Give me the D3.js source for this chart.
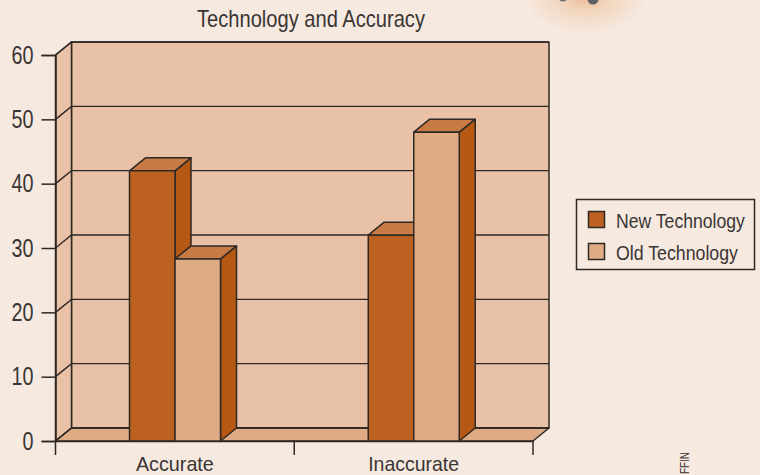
<!DOCTYPE html>
<html lang="en">
<head>
    <meta charset="UTF-8">
    <title>Technology and Accuracy</title>
    <style>
        html, body { margin: 0; padding: 0; background: #f6e9df; overflow: hidden; }
        svg { display: block; }
        text { font-family: "Liberation Sans", sans-serif; fill: #3a3535; }
    </style>
    <script src="https://cdn.jsdelivr.net/npm/d3@7"></script>
</head>
<body>
<svg width="760" height="475"></svg>
<script>
    const categories = ["Accurate", "Inaccurate"];
    const seriesNames = ["New Technology", "Old Technology"];
    const newTech = [42, 32];
    const oldTech = [28.3, 48];
    const yTicks = [0, 10, 20, 30, 40, 50, 60];

    const ink = "#2f2926";
    const depthX = 16, depthY = -13;
    const colors = {
        "New Technology": "#bc611f",
        "Old Technology": "#dfab85"
    };

    let svg = d3.select("svg");

    const y = d3.scaleLinear().domain([0, 60]).range([441, 55]);
    const x = d3.scaleBand().domain(categories).range([55.5, 533]);
    // bars fill the middle of each category, no gap between them
    const xBar = d3.scaleBand().domain(seriesNames).range([74, 165]);

    // no narrow font here, so squeeze the text to the measured width
    function squeeze(sel, width) {
        sel.each(function () {
            let t = d3.select(this);
            const tx = +t.attr("x") || 0, ty = +t.attr("y") || 0;
            const s = width / this.getComputedTextLength();
            t.attr("x", 0).attr("y", 0).attr("transform", `translate(${tx},${ty}) scale(${s},1)`);
        });
    }

    // smudge from the photo cropped at the top of the page
    let defs = svg.append("defs");
    let glow = defs.append("radialGradient").attr("id", "glow");
    glow.append("stop").attr("offset", "0%").attr("stop-color", "#e9b994");
    glow.append("stop").attr("offset", "45%").attr("stop-color", "#f2d6bf");
    glow.append("stop").attr("offset", "100%").attr("stop-color", "#f6e9df");
    svg.append("ellipse").attr("cx", 585).attr("cy", -6)
        .attr("rx", 62).attr("ry", 40).attr("fill", "url(#glow)");
    svg.append("circle").attr("cx", 593).attr("cy", -1).attr("r", 5.5).attr("fill", "#5e6164");
    svg.append("circle").attr("cx", 563).attr("cy", -3).attr("r", 4.5).attr("fill", "#6e7072");

    function poly(g, pts, fill) {
        return g.append("path")
            .attr("d", "M" + pts.map(p => p.join(",")).join("L") + "Z")
            .attr("fill", fill)
            .attr("stroke", ink)
            .attr("stroke-width", 1.5)
            .attr("stroke-linejoin", "round");
    }

    const x0 = x.range()[0], x1 = x.range()[1];
    const y0 = y(0), yTop = y(60);

    let chart = svg.append("g");
    // back wall, side wall, floor
    poly(chart, [[x0 + depthX, yTop + depthY], [x1 + depthX, yTop + depthY], [x1 + depthX, y0 + depthY], [x0 + depthX, y0 + depthY]], "#e9c1a6");
    poly(chart, [[x0, yTop], [x0 + depthX, yTop + depthY], [x0 + depthX, y0 + depthY], [x0, y0]], "#e9c1a6");
    poly(chart, [[x0, y0], [x0 + depthX, y0 + depthY], [x1 + depthX, y0 + depthY], [x1, y0]], "#dfab85");

    // gridlines on both walls
    yTicks.forEach(function (t) {
        chart.append("path")
            .attr("d", `M${x0},${y(t)}L${x0 + depthX},${y(t) + depthY}L${x1 + depthX},${y(t) + depthY}`)
            .attr("fill", "none").attr("stroke", ink).attr("stroke-width", 1.4);
    });

    // axes
    let yAxis = svg.append("g").attr("transform", `translate(${x0},0)`)
        .call(d3.axisLeft(y).tickValues(yTicks).tickSize(14).tickPadding(8).tickFormat(d3.format("d")));
    yAxis.attr("font-family", null).attr("font-size", null);
    yAxis.select(".domain").attr("stroke", ink).attr("stroke-width", 1.5);
    yAxis.selectAll(".tick line").attr("stroke", ink).attr("stroke-width", 1.5);
    yAxis.selectAll("text").attr("font-size", 25)
        .each(function (d) { squeeze(d3.select(this), d === 0 ? 11 : 22); });

    let xAxis = svg.append("g").attr("transform", `translate(0,${y0})`)
        .call(d3.axisBottom(x).tickSize(0).tickPadding(14.6));
    xAxis.attr("font-family", null).attr("font-size", null);
    xAxis.select(".domain").attr("stroke", ink).attr("stroke-width", 1.5);
    xAxis.selectAll("text").attr("font-size", 21)
        .each(function (d) { squeeze(d3.select(this), d === "Accurate" ? 78 : 91); });
    xAxis.selectAll(".divider").data([x0, x0 + x.bandwidth(), x1]).enter().append("line")
        .attr("class", "divider")
        .attr("x1", d => d).attr("x2", d => d).attr("y1", 0).attr("y2", 14)
        .attr("stroke", ink).attr("stroke-width", 1.5);

    // bars, left to right so each one covers the side of the previous one
    const rows = [];
    categories.forEach(function (c, i) {
        rows.push({ cat: c, name: seriesNames[0], value: newTech[i] });
        rows.push({ cat: c, name: seriesNames[1], value: oldTech[i] });
    });
    let bars = svg.append("g").selectAll("g").data(rows).enter().append("g");
    bars.each(function (d) {
        let g = d3.select(this);
        const l = x(d.cat) + xBar(d.name), r = l + xBar.bandwidth();
        const t = y(d.value);
        poly(g, [[r, t], [r + depthX, t + depthY], [r + depthX, y0 + depthY], [r, y0]], "#b55813");
        poly(g, [[l, t], [l + depthX, t + depthY], [r + depthX, t + depthY], [r, t]], "#c87b45");
        poly(g, [[l, t], [r, t], [r, y0], [l, y0]], colors[d.name]);
    });

    svg.append("text").attr("x", 311).attr("y", 27).attr("text-anchor", "middle")
        .attr("font-size", 23).text("Technology and Accuracy")
        .call(squeeze, 228);

    // legend
    let legend = svg.append("g");
    legend.append("rect").attr("x", 576.5).attr("y", 199.5).attr("width", 178).attr("height", 70)
        .attr("fill", "none").attr("stroke", ink).attr("stroke-width", 1.5);
    let items = legend.selectAll(".item").data(seriesNames).enter().append("g")
        .attr("class", "item")
        .attr("transform", (d, i) => `translate(0,${i * 32})`);
    items.append("rect").attr("x", 588.5).attr("y", 211.5).attr("width", 16).attr("height", 16)
        .attr("fill", d => colors[d]).attr("stroke", ink).attr("stroke-width", 1.5);
    items.append("text").attr("x", 616).attr("y", 228).attr("font-size", 21).text(d => d)
        .each(function (d, i) { squeeze(d3.select(this), i === 0 ? 129 : 122); });

    // credit running up the page edge
    svg.append("g").attr("transform", "translate(689,452) rotate(-90)")
        .append("text").attr("text-anchor", "end").attr("font-size", 12).text("FFIN")
        .call(squeeze, 22);
</script>
</body>
</html>
